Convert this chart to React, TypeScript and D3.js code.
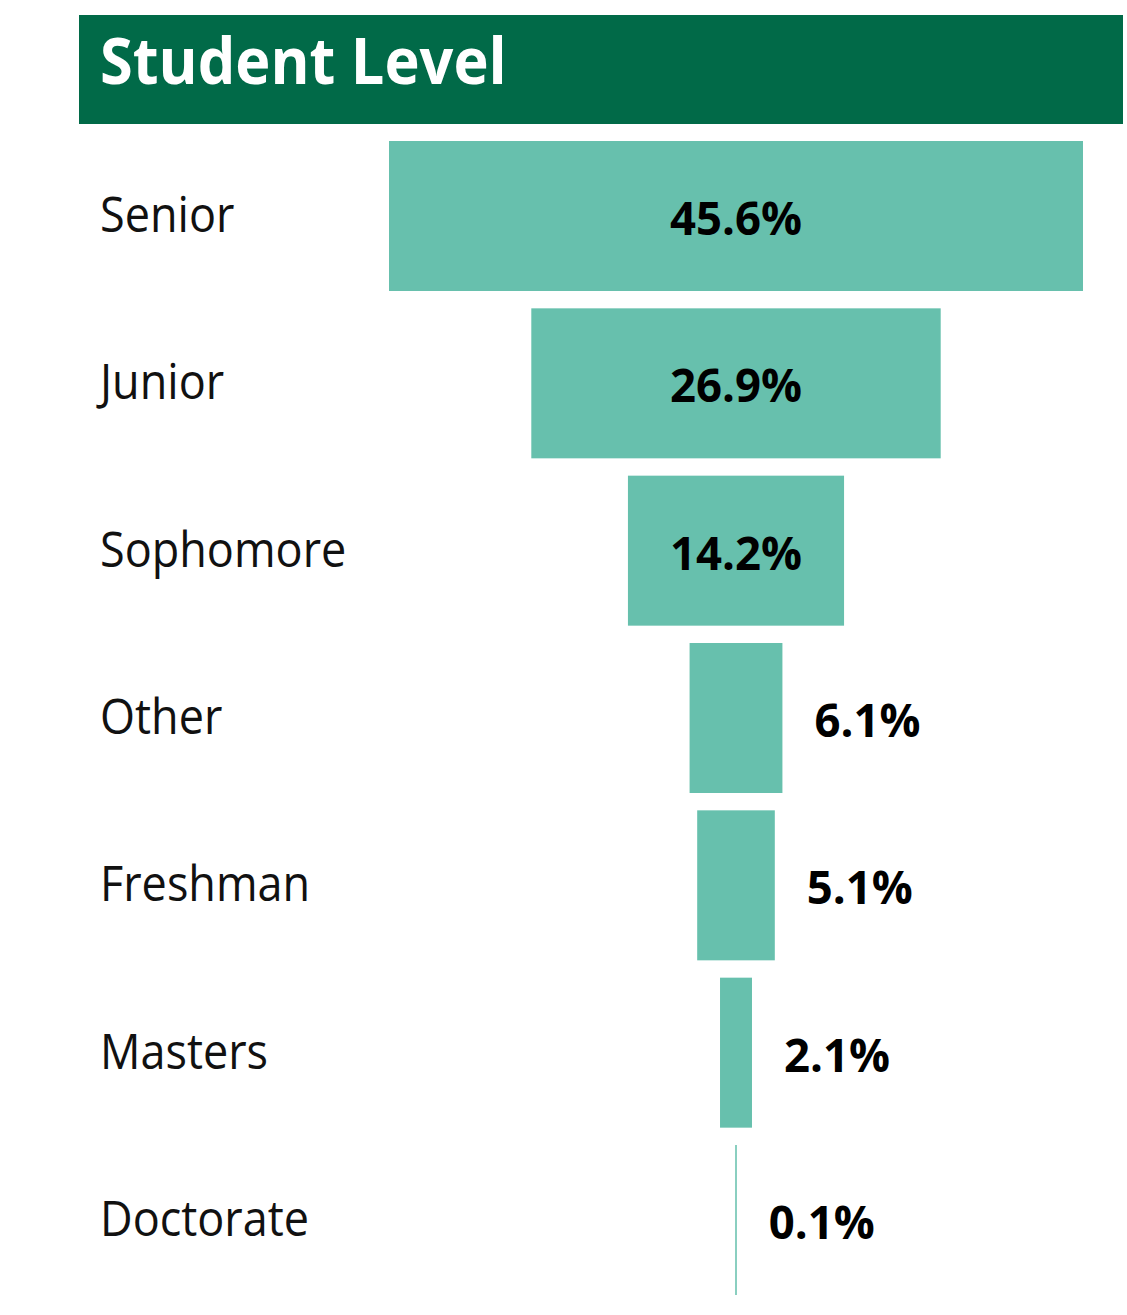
import { useEffect, useRef } from "react";
import * as d3 from "d3";

const categories = ["Senior", "Junior", "Sophomore", "Other", "Freshman", "Masters", "Doctorate"];
const shares = [45.6, 26.9, 14.2, 6.1, 5.1, 2.1, 0.1];
const title = "Student Level";

export default function App() {
  const svgRef = useRef<SVGSVGElement>(null);

  useEffect(() => {
    if (!svgRef.current) return;
    const W = 1127, H = 1315;
    const centerX = 736;
    const svg = d3.select(svgRef.current);
    svg.selectAll("*").remove();
    svg.attr("width", W).attr("height", H);

    // header band
    svg.append("rect")
      .attr("x", 79).attr("y", 15)
      .attr("width", 1044).attr("height", 109)
      .attr("fill", "#016a48");
    svg.append("g")
      .attr("transform", "translate(100,84) scale(1,1.07)")
      .append("text")
      .attr("fill", "#fff")
      .attr("font-family", "'Open Sans', sans-serif")
      .attr("font-weight", "bold")
      .attr("font-size", 59.5)
      .text(title);

    const data = categories.map((c, i) => ({ cat: c, value: shares[i] }));

    const y = d3.scaleBand<string>()
      .domain(categories)
      .range([141, 1295])
      .paddingInner(0.1036)
      .paddingOuter(0);
    const x = d3.scaleLinear().domain([0, 45.6]).range([0, 694]);

    // bars, centred funnel
    svg.selectAll("rect.bar")
      .data(data)
      .enter()
      .append("rect")
      .attr("class", "bar")
      .attr("x", d => centerX - Math.max(x(d.value), 1.5) / 2)
      .attr("y", d => y(d.cat)!)
      .attr("width", d => Math.max(x(d.value), 1.5))
      .attr("height", y.bandwidth())
      .attr("fill", "#67c0ad");

    // category labels
    svg.selectAll("g.lbl")
      .data(data)
      .enter()
      .append("g")
      .attr("class", "lbl")
      .attr("transform", d => `translate(100,${y(d.cat)! + y.bandwidth() / 2 + 16}) scale(1,1.1)`)
      .append("text")
      .attr("fill", "#111")
      .attr("font-family", "'Open Sans', sans-serif")
      .attr("font-size", 45)
      .text(d => d.cat);

    // value labels: inside when it fits, else right of the bar
    const fits = (d: { value: number }) => x(d.value) > 180;
    svg.selectAll("g.val")
      .data(data)
      .enter()
      .append("g")
      .attr("class", "val")
      .attr("transform", d => {
        const tx = fits(d) ? centerX : centerX + x(d.value) / 2 + 32;
        return `translate(${tx},${y(d.cat)! + y.bandwidth() / 2 + 19}) scale(1,1.03)`;
      })
      .append("text")
      .attr("text-anchor", d => (fits(d) ? "middle" : "start"))
      .attr("fill", "#000")
      .attr("font-family", "'Open Sans', sans-serif")
      .attr("font-weight", "bold")
      .attr("font-size", 45.5)
      .text(d => `${d.value.toFixed(1)}%`);
  }, []);

  return (
    <div style={{ position: "absolute", left: 0, top: 0, background: "#fff" }}>
      <svg ref={svgRef} style={{ display: "block" }}></svg>
    </div>
  );
}
